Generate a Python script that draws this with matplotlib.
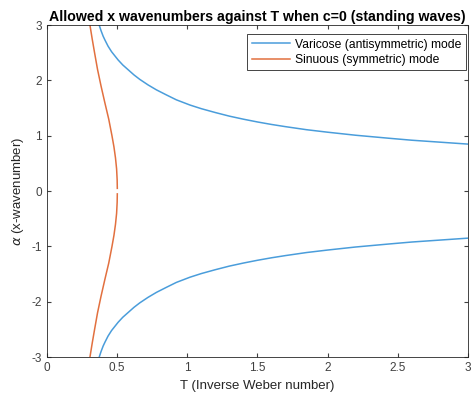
import numpy as np
from matplotlib import pyplot as plt

plt.rcParams['font.family'] = ['Liberation Sans', 'DejaVu Sans']

# Varicose (antisymmetric) mode, upper branch
var_T = [0.372, 0.385, 0.40, 0.413, 0.435, 0.46, 0.485, 0.507, 0.54, 0.58, 0.62, 0.661,
         0.72, 0.78, 0.85, 0.922, 1.02, 1.1, 1.2, 1.3, 1.4, 1.5, 1.6, 1.7, 1.85, 2.0,
         2.2, 2.44, 2.6, 2.8, 3.0]
var_a = [3.0, 2.9, 2.8, 2.73, 2.62, 2.52, 2.44, 2.37, 2.28, 2.19, 2.10, 2.02,
         1.92, 1.83, 1.74, 1.65, 1.555, 1.49, 1.42, 1.355, 1.30, 1.25, 1.205, 1.165, 1.11, 1.065,
         1.01, 0.955, 0.92, 0.885, 0.85]

# Sinuous (symmetric) mode, upper branch
sin_a = [3.0, 2.75, 2.5, 2.2, 1.9, 1.6, 1.3, 1.0, 0.8, 0.6, 0.4, 0.2, 0.05]
sin_T = [0.306, 0.322, 0.339, 0.36, 0.385, 0.412, 0.44, 0.463, 0.477, 0.488, 0.496, 0.5, 0.501]

x_ticks = [0, 0.5, 1, 1.5, 2, 2.5, 3]
y_ticks = [-3, -2, -1, 0, 1, 2, 3]

blue = '#4a9ddb'
orange = '#e2703f'

fig = plt.figure(figsize=(4.75, 3.99), dpi=100)
ax = fig.add_axes([0.099, 0.105, 0.886, 0.832])

var_T = np.array(var_T)
var_a = np.array(var_a)
sin_T = np.array(sin_T)
sin_a = np.array(sin_a)

ax.plot(var_T, var_a, color=blue, lw=1.1, label="Varicose (antisymmetric) mode")
ax.plot(sin_T, sin_a, color=orange, lw=1.1, label="Sinuous (symmetric) mode")
ax.plot(var_T, -var_a, color=blue, lw=1.1)
ax.plot(sin_T, -sin_a, color=orange, lw=1.1)

ax.set_xlim(0, 3)
ax.set_ylim(-3, 3)
ax.set_xticks(x_ticks)
ax.set_xticklabels([str(t) for t in x_ticks])
ax.set_yticks(y_ticks)
ax.set_yticklabels([str(t) for t in y_ticks])
ax.tick_params(direction='in', top=True, right=True, labelsize=8.5, colors='#404040', length=3)
for s in ax.spines.values():
    s.set_color('#262626')
    s.set_linewidth(0.6)

ax.set_xlabel("T (Inverse Weber number)", fontsize=9.5, color='#262626')
ax.set_ylabel(r"$\alpha$ (x-wavenumber)", fontsize=9.5, color='#262626')
ax.set_title("Allowed x wavenumbers against T when c=0 (standing waves)", fontsize=10.2, fontweight='bold', pad=3)

leg = ax.legend(loc='upper right', bbox_to_anchor=(1.009, 0.99), fontsize=8.7, fancybox=False,
                framealpha=1, edgecolor='#262626', handlelength=3.2, borderpad=0.35, labelspacing=0.25,
                handletextpad=0.4)
leg.get_frame().set_linewidth(0.6)

fig.savefig('out.png', dpi=100)
